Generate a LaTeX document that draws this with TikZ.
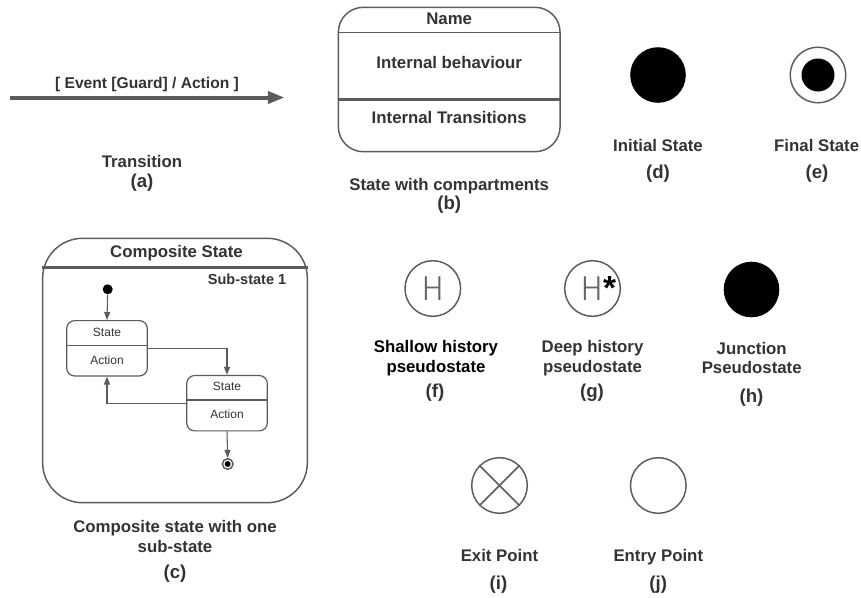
\documentclass[tikz,border=0pt]{standalone}
\usepackage{fontspec}
\setmainfont{Liberation Sans}
\newfontfamily\hfont{Fira Sans Light}
\usetikzlibrary{arrows.meta}
\definecolor{ink}{HTML}{333333}
\definecolor{linegray}{HTML}{5C5C5C}
\definecolor{hgray}{HTML}{666666}
\begin{document}
\begin{tikzpicture}[x=0.75pt,y=-0.75pt,
  txt/.style={inner sep=0pt, anchor=base, text=ink, font=\bfseries\fontsize{12.6}{15}\selectfont},
  reftxt/.style={txt, font=\bfseries\fontsize{14}{16}\selectfont},
  blacktxt/.style={txt, text=black},
  small/.style={txt, font=\bfseries\fontsize{11.7}{14}\selectfont},
  tiny/.style={txt, font=\fontsize{9}{11}\selectfont},
  outline/.style={draw=linegray, line width=1.1pt, inner sep=0pt},
  divider/.style={draw=linegray, line width=2.6pt},
  thinline/.style={draw=linegray, line width=0.9pt},
  pseudo/.style={circle, draw=linegray, line width=1.1pt, minimum size=41.7pt, inner sep=0pt},
  dot/.style={circle, fill=black, minimum size=41.7pt, inner sep=0pt},
  htext/.style={inner sep=0pt, text=hgray, font=\hfont\fontsize{26}{26}\selectfont},
  flow/.style={draw=linegray, line width=0.8pt, -{Triangle[length=6pt,width=4.5pt]}},
  substate/.style={draw=linegray, line width=0.9pt, rounded corners=6pt,
    minimum width=60.5pt, minimum height=41.5pt, inner sep=0pt},
]
\useasboundingbox (0,0) rectangle (861,597);

% (a) transition
\coordinate (ta) at (10,97.5);
\coordinate (tb) at (284.5,97.5);
\draw[linegray, line width=3pt, -{Triangle[length=12.5pt,width=9pt]}] (ta) -- (tb);
\node[small] (evt) at (147,88) {[ Event [Guard] / Action ]};
\node[txt] (capA) at (142,167) {Transition};
\node[reftxt] (refA) at (142,187.5) {(a)};

% (b) state with compartments
\node[outline, rounded corners=18.75pt, minimum width=166.3pt, minimum height=108.3pt] (bstate) at (449.2,79.5) {};
\coordinate (bcut1) at (449,32.7);
\coordinate (bcut2) at (449,99.3);
\draw[thinline] (bstate.west |- bcut1) -- (bstate.east |- bcut1);
\draw[divider] (bstate.west |- bcut2) -- (bstate.east |- bcut2);
\node[txt] (bname) at (449.2,24) {Name};
\node[txt] (bbeh) at (449.2,68) {Internal behaviour};
\node[txt] (btrans) at (449.2,123) {Internal Transitions};
\node[txt] (capB) at (449.2,190) {State with compartments};
\node[reftxt] (refB) at (449.2,209.8) {(b)};

% (d) initial state
\node[dot] (init) at (658,75) {};
\node[txt] (capD) at (658,151) {Initial State};
\node[reftxt] (refD) at (658,178.5) {(d)};

% (e) final state
\node[pseudo] (final) at (818,75) {};
\node[circle, fill=black, minimum size=24.75pt, inner sep=0pt] (finalcore) at (final) {};
\node[txt] (capE) at (816.7,151) {Final State};
\node[reftxt] (refE) at (817,178.5) {(e)};

% (c) composite state
\node[outline, rounded corners=30pt, minimum width=198.5pt, minimum height=198.3pt] (comp) at (175,370.5) {};
\node[txt] (compT) at (176.5,257) {Composite State};
\coordinate (csplit) at (175,267.7);
\draw[divider] (comp.west |- csplit) -- (comp.east |- csplit);
\node[txt, anchor=base east, font=\bfseries\fontsize{10.9}{13}\selectfont] (subT) at (286.5,284) {Sub-state 1};

\node[circle, fill=black, minimum size=7.5pt, inner sep=0pt] (cinit) at (107.7,289.3) {};
\node[substate] (sA) at (107,348.3) {};
\node[substate] (sB) at (227,403.2) {};
\coordinate (sAcut) at (107,345.7);
\coordinate (sBcut) at (227,400);
\draw[thinline] (sA.west |- sAcut) -- (sA.east |- sAcut);
\draw[thinline] (sB.west |- sBcut) -- (sB.east |- sBcut);
\node[tiny] (sAname) at (107,336) {State};
\node[tiny] (sAact) at (107,364) {Action};
\node[tiny] (sBname) at (227,390) {State};
\node[tiny] (sBact) at (227,418) {Action};
\node[circle, draw=linegray, line width=1.1pt, minimum size=8pt, inner sep=0pt] (cfinal) at (227.7,464) {};
\node[circle, fill=black, minimum size=4.5pt, inner sep=0pt] (cfinalcore) at (cfinal) {};

\draw[flow] (cinit) -- (sA.north);
\draw[flow] (sA.east) -| (sB.north);
\draw[flow] (sB.west) -| (sA.south);
\draw[flow] (sB.south) -- (cfinal.north);

\node[txt] (capC1) at (175,532) {Composite state with one};
\node[txt] (capC2) at (175,552) {sub-state};
\node[reftxt] (refC) at (175,578.5) {(c)};

% (f) shallow history
\node[pseudo] (shallow) at (432.8,288.5) {};
\node[htext] (shallowH) at (shallow) {H};
\node[blacktxt] (capF1) at (436,352) {Shallow history};
\node[blacktxt] (capF2) at (436,372) {pseudostate};
\node[reftxt] (refF) at (435,397) {(f)};

% (g) deep history
\node[pseudo] (deep) at (592.5,288.5) {};
\node[htext] (deepH) at (592,288.5) {H};
\node[inner sep=0pt, anchor=base, text=black, font=\bfseries\fontsize{25}{25}\selectfont] (deepStar) at (609.5,299.5) {*};
\node[txt] (capG1) at (592.5,352) {Deep history};
\node[txt] (capG2) at (592.5,372) {pseudostate};
\node[reftxt] (refG) at (592,397) {(g)};

% (h) junction
\node[dot] (junction) at (751.5,289.5) {};
\node[txt] (capH1) at (751.7,354) {Junction};
\node[txt] (capH2) at (751.7,373) {Pseudostate};
\node[reftxt] (refH) at (751.5,402) {(h)};

% (i) exit point
\node[pseudo] (exit) at (499.5,485.5) {};
\draw[linegray, line width=1.1pt] (exit.north west) -- (exit.south east);
\draw[linegray, line width=1.1pt] (exit.north east) -- (exit.south west);
\node[txt] (capI) at (499.5,561) {Exit Point};
\node[reftxt] (refI) at (498.5,589.5) {(i)};

% (j) entry point
\node[pseudo] (entry) at (658.3,485.5) {};
\node[txt] (capJ) at (658.3,561) {Entry Point};
\node[reftxt] (refJ) at (658.3,589.5) {(j)};
\end{tikzpicture}
\end{document}
